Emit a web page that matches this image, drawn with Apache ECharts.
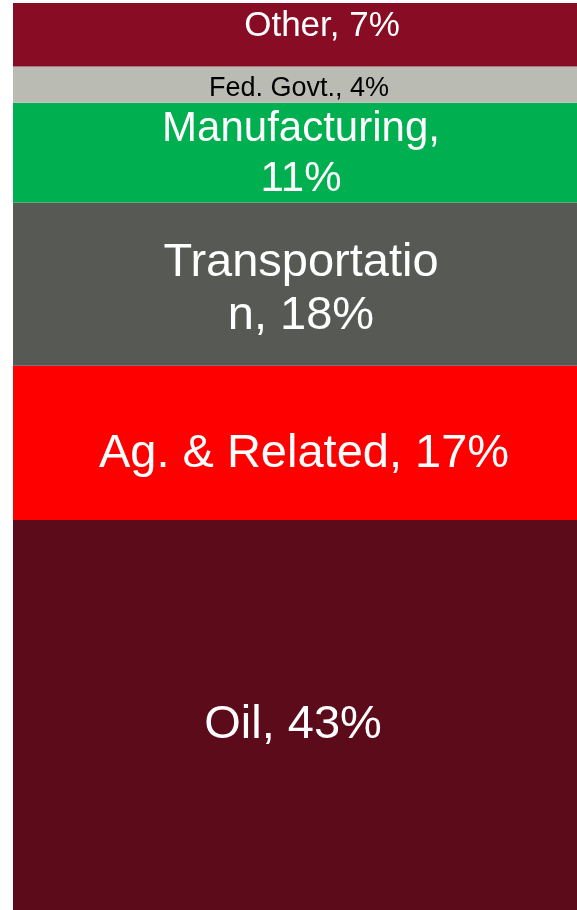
<!DOCTYPE html>
<html>
<head>
<meta charset="utf-8">
<script src="https://cdn.jsdelivr.net/npm/echarts@6/dist/echarts.min.js"></script>
<style>
  html, body { margin: 0; padding: 0; background: #fff; }
  #chart { width: 577px; height: 910px; }
</style>
</head>
<body>
<div id="chart"></div>
<script>
// 数据（从下往上堆叠）
const categories = ['Oil', 'Ag. & Related', 'Transportation', 'Manufacturing', 'Fed. Govt.', 'Other'];
const shares = [43, 17, 18, 11, 4, 7];
const labelTexts = ['Oil, 43%', 'Ag. & Related, 17%', 'Transportatio\nn, 18%', 'Manufacturing,\n11%', 'Fed. Govt., 4%', 'Other, 7%'];

// 样式
const colors = ['#5C0B1A', '#FF0000', '#575955', '#00B050', '#BABCB4', '#870C24'];
const textColors = ['#fff', '#fff', '#fff', '#fff', '#000', '#fff'];
const fontSizes = [47, 47, 47, 42, 27, 35];
const lineHeights = [50, 50, 53, 50, 28, 38];
const labelOffsets = [[-2, 10], [9, 11], [6, 5], [6, 2], [4, 4], [27, -8]];

let myChart = echarts.init(document.getElementById('chart'));

let seriesData = categories.map((name, i) => ({
  name: name,
  type: 'bar',
  stack: 'total',
  barWidth: '100%',
  itemStyle: { color: colors[i] },
  label: {
    show: true,
    position: 'inside',
    formatter: labelTexts[i],
    color: textColors[i],
    fontSize: fontSizes[i],
    lineHeight: lineHeights[i],
    fontFamily: 'Liberation Sans, Arial, sans-serif',
    offset: labelOffsets[i],
    align: 'center'
  },
  data: [shares[i]]
}));

myChart.setOption({
  animation: false,
  grid: { left: 13, right: 0, top: 3, bottom: 0 },
  xAxis: {
    type: 'category',
    data: ['Share'],
    show: false
  },
  yAxis: {
    type: 'value',
    min: 0,
    max: 100,
    show: false
  },
  series: seriesData
});
</script>
</body>
</html>
